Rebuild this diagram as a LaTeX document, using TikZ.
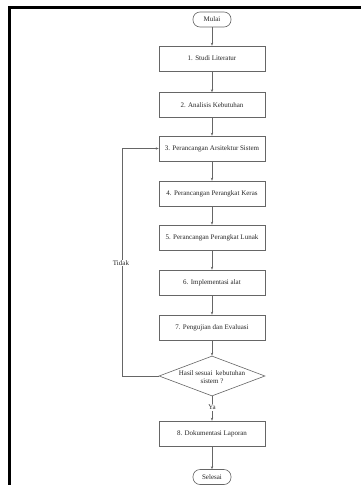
\documentclass[tikz,border=0pt]{standalone}
\usepackage{fontspec}
\setmainfont{Liberation Serif}
\usetikzlibrary{shapes.geometric,arrows.meta}
\begin{document}
\begin{tikzpicture}[x=1pt,y=-1pt,
  every node/.style={font=\fontsize{7}{8}\selectfont, text=black!85},
  procbox/.style={draw=black!60, line width=0.6pt, minimum width=106pt, minimum height=25pt, inner sep=0pt},
  termbox/.style={draw=black!60, line width=0.6pt, rounded corners=7pt, minimum width=38pt, minimum height=15pt, inner sep=0pt},
  decbox/.style={draw=black!60, line width=0.6pt, diamond, aspect=2.65, minimum width=106pt, minimum height=40pt, inner sep=0pt},
  conn/.style={draw=black!60, line width=0.6pt, -{Stealth[length=3pt,width=2.4pt]}}
]
\useasboundingbox (0,0) rectangle (361,485);
\fill[white] (0,0) rectangle (361,485);
\draw[line width=3pt, black] (9.5,485) -- (9.5,7.5) -- (361,7.5);

\node[termbox] (start) at (212,19.5) {Mulai};
\node[procbox] (s1) at (212,58.5) {1. Studi Literatur};
\node[procbox] (s2) at (212,105) {2. Analisis Kebutuhan};
\node[procbox] (s3) at (212,148.5) {3. Perancangan Arsitektur Sistem};
\node[procbox] (s4) at (212,193.5) {4. Perancangan Perangkat Keras};
\node[procbox] (s5) at (212,237.5) {5. Perancangan Perangkat Lunak};
\node[procbox] (s6) at (212,282.5) {6. Implementasi alat};
\node[procbox] (s7) at (212,327.5) {7. Pengujian dan Evaluasi};
\node[decbox] (d) at (212,376) {};
\node[align=center, font=\fontsize{7}{8}\selectfont] (dtext) at (212,377) {Hasil sesuai\ \ kebutuhan\\sistem ?};
\node[procbox] (s8) at (212,433.5) {8. Dokumentasi Laporan};
\node[termbox] (end) at (212,477) {Selesai};

\draw[conn] (start) -- (s1);
\draw[conn] (s1) -- (s2);
\draw[conn] (s2) -- (s3);
\draw[conn] (s3) -- (s4);
\draw[conn] (s4) -- (s5);
\draw[conn] (s5) -- (s6);
\draw[conn] (s6) -- (s7);
\draw[conn] (s7) -- (d.north);
\draw[conn] (d.south) -- node[fill=white, inner sep=1pt, pos=0.45] (ya) {Ya} (s8);
\draw[conn] (s8) -- (end);

\coordinate (lb) at (122,376);
\coordinate (lt) at (122,148.5);
\draw[conn] (d.west) -- (lb) -- (lt) -- (s3.west);
\node[fill=white, inner sep=1pt] (tidak) at (121,263) {Tidak};
\end{tikzpicture}
\end{document}
